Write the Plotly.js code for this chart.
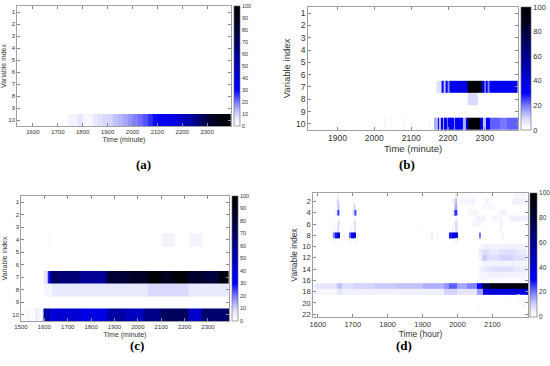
<!DOCTYPE html>
<html>
<head>
<meta charset="utf-8">
<script src="https://cdn.plot.ly/plotly-3.0.1.min.js"></script>
<style>html,body{margin:0;padding:0;background:#fff}#chart{width:550px;height:366px}</style>
</head>
<body>
<div id="chart"></div>
<script>
// ---------- DATA: segments [startTime, endTime, value] per variable row ----------
// Panel (a): time in minutes, rows 1..10
const a_xticks = [1600,1700,1800,1900,2000,2100,2200,2300];
const a_row10 = [[1740,1760,4],[1760,1780,4],[1780,1800,7],[1800,1820,3],[1820,1840,3],[1840,1860,6],
  [1860,1880,8],[1880,1900,9],[1900,1920,10],[1920,1940,12],[1940,1960,13],[1960,1980,15],[1980,2000,17],
  [2000,2020,19],[2020,2040,21],[2040,2060,23],[2060,2080,26],[2080,2100,29],[2100,2120,31],[2120,2140,33],
  [2140,2160,35],[2160,2180,38],[2180,2200,42],[2200,2220,47],[2220,2240,53],[2240,2260,60],[2260,2280,67],
  [2280,2300,75],[2300,2320,82],[2320,2340,88],[2340,2360,92],[2360,2380,95],[2380,2395,97]];

// Panel (b): time in minutes
const b_xticks = [1900,2000,2100,2200,2300];
const b_row7 = [[2169,2183,8],[2183,2189,32],[2189,2193,12],[2193,2199,36],[2199,2205,18],[2205,2230,35],
  [2230,2254,38],[2254,2260,90],[2260,2285,98],[2285,2290,90],[2290,2299,40],[2299,2303,12],[2303,2308,38],
  [2308,2312,20],[2312,2389,34]];
const b_row8 = [[2254,2281,9]];
const b_row10 = [[2026,2032,3],[2045,2048,3],[2078,2083,3],[2098,2102,3],[2147,2152,3],[2163,2172,14],
  [2172,2176,35],[2176,2180,12],[2180,2185,38],[2185,2190,15],[2190,2196,35],[2196,2200,20],[2200,2215,32],
  [2215,2220,18],[2220,2240,30],[2240,2248,14],[2248,2253,40],[2253,2287,97],[2287,2296,40],[2296,2303,12],
  [2303,2315,30],[2315,2340,22],[2340,2360,20],[2360,2389,22]];

// Panel (c): time in minutes
const c_xticks = [1500,1600,1700,1800,1900,2000,2100,2200,2300];
const c_row4 = [[1618,1625,2],[2103,2157,4],[2220,2278,4]];
const c_row7 = [[1597,1612,7],[1612,1617,25],[1617,1622,40],[1622,1627,32],[1627,1660,70],[1660,1750,66],
  [1750,1865,58],[1865,1960,82],[1960,2045,86],[2045,2100,97],[2100,2150,88],[2150,2215,97],[2215,2280,85],
  [2280,2345,80],[2345,2390,95]];
const c_row8 = [[1597,1603,2],[1603,1608,4],[1608,1615,2],[1615,1620,5],[1620,1633,2],[1633,2040,6],
  [2040,2217,9],[2217,2390,6]];
const c_row10 = [[1519,1540,2],[1547,1554,5],[1561,1569,7],[1576,1583,5],[1590,1597,9],[1597,1602,30],
  [1602,1606,85],[1606,1611,40],[1611,1618,75],[1618,1626,48],[1626,1633,35],[1633,1755,42],[1755,1865,37],
  [1865,1947,55],[1947,2025,47],[2025,2103,62],[2103,2217,72],[2217,2274,45],[2274,2390,68]];

// Panel (d): time in hours, rows 1..22
const d_xticks = [1600,1700,1800,1900,2000,2100];
const d_rows = [
  /*1*/ [[1655,1660,4],[1993,1998,6],[2010,2060,2],[2160,2200,3]],
  /*2*/ [[1652,1656,3],[1656,1661,10],[1700,1705,4],[1985,1992,5],[1992,2000,13],[2005,2040,3],[2040,2050,5],[2080,2090,4],[2155,2200,5]],
  /*3*/ [[1656,1661,12],[1703,1708,10],[1992,2000,14],[2070,2110,2]],
  /*4*/ [[1650,1655,5],[1655,1662,26],[1700,1704,8],[1704,1710,24],[1985,1992,6],[1992,2000,26],[2030,2060,3],[2120,2140,4]],
  /*5*/ [[1656,1661,4],[1703,1708,4],[1993,2000,5],[2050,2080,4],[2100,2130,3],[2150,2200,5]],
  /*6*/ [[1648,1652,4],[1656,1661,9],[1703,1708,9],[1985,1990,4],[1992,2000,9],[2040,2070,3],[2120,2130,5]],
  /*7*/ [[1646,1650,4],[1656,1661,8],[1693,1697,4],[1703,1708,8],[1900,1905,3],[1985,1990,4],[1992,2000,8],[2120,2125,4]],
  /*8*/ [[1643,1650,20],[1650,1655,28],[1655,1662,45],[1688,1695,22],[1695,1700,30],[1700,1708,42],[1925,1930,6],[1940,1945,6],[1975,1985,28],[1985,1992,32],[1992,2000,45],[2060,2068,20],[2128,2132,5]],
  /*9*/ [[1643,1648,3],[1656,1661,4],[1690,1695,3],[1703,1708,4],[1992,2000,4]],
  /*10*/ [[2065,2075,3],[2075,2100,5],[2100,2150,4],[2150,2200,5]],
  /*11*/ [[2062,2070,6],[2070,2090,8],[2090,2120,6],[2120,2170,8],[2170,2200,6]],
  /*12*/ [[2062,2070,5],[2070,2085,11],[2085,2120,8],[2120,2160,10],[2160,2200,8]],
  /*13*/ [[2070,2200,4]],
  /*14*/ [[2062,2075,5],[2075,2100,7],[2100,2160,8],[2160,2200,6]],
  /*15*/ [[2062,2090,3],[2090,2130,5],[2130,2200,4]],
  /*16*/ [[1660,1665,2],[2060,2200,2]],
  /*17*/ [[1586,1596,4],[1596,1654,7],[1654,1668,12],[1668,1702,8],[1702,1760,10],[1760,1826,11],[1826,1900,12],[1900,1960,14],[1960,1977,17],[1977,1998,22],[1998,2027,15],[2027,2056,19],[2056,2070,30],[2070,2094,75],[2094,2202,92]],
  /*18*/ [[1586,1654,3],[1654,1668,7],[1668,1960,5],[1960,1998,10],[1998,2056,7],[2056,2072,16],[2072,2202,40]],
  /*19*/ [[2170,2180,2]],
  /*20*/ [[2150,2155,2],[2185,2195,3]],
  /*21*/ [[2058,2062,4]],
  /*22*/ []
];

const cbTicks10 = [0,10,20,30,40,50,60,70,80,90,100];
const cbTicks20 = [0,20,40,60,80,100];
const panelLabels = ['(a)','(b)','(c)','(d)'];

// ---------- BUILD ----------
const W = 550, H = 366;
function fx(px){return px/W;}
function fy(py){return 1-py/H;}

function rowTrace(segs,row,ca,xa,ya){
  const edges=[], vals=[];
  segs.forEach(s=>{
    if(edges.length===0){edges.push(s[0]);}
    else if(edges[edges.length-1] < s[0]){vals.push(null); edges.push(s[0]);}
    edges.push(s[1]); vals.push(s[2]);
  });
  return {type:'heatmap', x:edges, y:[row-0.5,row+0.5], z:[vals], coloraxis:ca,
          xaxis:xa, yaxis:ya, zsmooth:false, hoverinfo:'skip'};
}

const traces=[];
traces.push(rowTrace(a_row10,10,'coloraxis','x','y'));
traces.push(rowTrace(b_row7,7,'coloraxis2','x2','y2'));
traces.push(rowTrace(b_row8,8,'coloraxis2','x2','y2'));
traces.push(rowTrace(b_row10,10,'coloraxis2','x2','y2'));
traces.push(rowTrace(c_row4,4,'coloraxis3','x3','y3'));
traces.push(rowTrace(c_row7,7,'coloraxis3','x3','y3'));
traces.push(rowTrace(c_row8,8,'coloraxis3','x3','y3'));
traces.push(rowTrace(c_row10,10,'coloraxis3','x3','y3'));
d_rows.forEach((segs,i)=>{ if(segs.length) traces.push(rowTrace(segs,i+1,'coloraxis4','x4','y4')); });

const cscale=[[0,'#ffffff'],[0.05,'#f0f0ff'],[0.1,'#d4d4ff'],[0.2,'#7878ff'],[0.3,'#0000ff'],
  [0.45,'#0000c8'],[0.6,'#000090'],[0.75,'#000050'],[0.9,'#000018'],[1,'#000000']];
const FONT='Liberation Sans, Arial, sans-serif';
const TXT='#333';
const LINE='#8a8a8a';

function cax(x0,py0,py1,th,tv,fs){
  return {cmin:0,cmax:100,colorscale:cscale,showscale:true,
    colorbar:{x:fx(x0),xanchor:'left',y:fy(py1),yanchor:'bottom',len:(py1-py0)/H,lenmode:'fraction',
      thickness:th,thicknessmode:'pixels',xpad:0,ypad:0,outlinewidth:0.6,outlinecolor:'#666',
      tickmode:'array',tickvals:tv,ticktext:tv.map(String),ticks:'',ticklabelposition:'outside',
      ticklabeloverflow:'allow',
      tickfont:{family:FONT,size:fs,color:TXT}}};
}
function xax(px0,px1,range,ticks,fs,title,tfs,standoff,anchor){
  return {domain:[fx(px0),fx(px1)],range:range,tickvals:ticks,ticktext:ticks.map(String),
    anchor:anchor,showgrid:false,zeroline:false,showline:true,linecolor:LINE,linewidth:0.8,mirror:'ticks',
    ticks:'inside',ticklen:3,tickcolor:LINE,tickfont:{family:FONT,size:fs,color:TXT},
    title:{text:title,font:{family:FONT,size:tfs,color:TXT},standoff:standoff}};
}
function yax(py0,py1,nrows,ticks,fs,tfs,standoff,anchor){
  return {domain:[fy(py1),fy(py0)],range:[nrows+0.5,0.5],tickvals:ticks,ticktext:ticks.map(String),
    anchor:anchor,showgrid:false,zeroline:false,showline:true,linecolor:LINE,linewidth:0.8,mirror:'ticks',
    ticks:'inside',ticklen:3,tickcolor:LINE,tickfont:{family:FONT,size:fs,color:TXT},
    title:{text:'Variable index',font:{family:FONT,size:tfs,color:TXT},standoff:standoff}};
}
const rows10=[1,2,3,4,5,6,7,8,9,10];
const rows22=[2,4,6,8,10,12,14,16,18,20,22];

const layout={
  width:W,height:H,margin:{l:0,r:0,t:0,b:0},paper_bgcolor:'#fff',plot_bgcolor:'#fff',showlegend:false,
  xaxis: xax(17,231,[1536,2396],a_xticks,6,'Time (minute)',7,2,'y'),
  yaxis: yax(6,126,10,rows10,6,7,3,'x'),
  xaxis2:xax(308,518,[1820,2390],b_xticks,8.5,'Time (minute)',9.5,2,'y2'),
  yaxis2:yax(7,130,10,rows10,8.5,9.5,3,'x2'),
  xaxis3:xax(21,229,[1500,2390],c_xticks,6,'Time (minute)',7,2,'y3'),
  yaxis3:yax(196,321,10,rows10,6,7,3,'x3'),
  xaxis4:xax(313,528,[1586,2202],d_xticks,7.5,'Time (hour)',8.5,2,'y4'),
  yaxis4:yax(193,317,22,rows22,7.5,8.5,3,'x4'),
  coloraxis: cax(234,6,126,6,cbTicks10,5.5),
  coloraxis2:cax(521,7,130,10,cbTicks20,7.5),
  coloraxis3:cax(232,196,321,6,cbTicks10,5.5),
  coloraxis4:cax(530,193,317,7,cbTicks20,6.5),
  annotations:[
    {text:'<b>'+panelLabels[0]+'</b>',x:fx(134),y:fy(164),xref:'paper',yref:'paper',showarrow:false,font:{family:'Liberation Serif, serif',size:13,color:'#000'}},
    {text:'<b>'+panelLabels[1]+'</b>',x:fx(417),y:fy(164),xref:'paper',yref:'paper',showarrow:false,font:{family:'Liberation Serif, serif',size:13,color:'#000'}},
    {text:'<b>'+panelLabels[2]+'</b>',x:fx(128),y:fy(355),xref:'paper',yref:'paper',showarrow:false,font:{family:'Liberation Serif, serif',size:13,color:'#000'}},
    {text:'<b>'+panelLabels[3]+'</b>',x:fx(414),y:fy(355),xref:'paper',yref:'paper',showarrow:false,font:{family:'Liberation Serif, serif',size:13,color:'#000'}}
  ]
};
Plotly.newPlot('chart',traces,layout,{displayModeBar:false,staticPlot:true});
</script>
</body>
</html>
